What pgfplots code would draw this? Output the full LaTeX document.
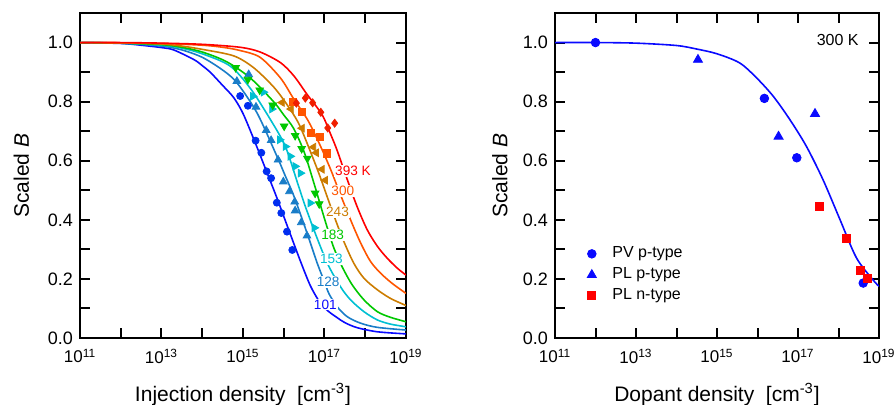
\documentclass[border=0pt]{standalone}
\usepackage{fontspec}
\setmainfont{Liberation Sans}
\usepackage{pgfplots}
\pgfplotsset{compat=1.18}

\definecolor{c393}{RGB}{255,0,0}
\definecolor{c393m}{RGB}{240,30,0}
\definecolor{c300}{RGB}{255,85,0}
\definecolor{c243}{RGB}{204,124,0}
\definecolor{c183}{RGB}{0,200,0}
\definecolor{c153}{RGB}{0,192,210}
\definecolor{c128}{RGB}{25,125,200}
\definecolor{c101}{RGB}{10,10,255}
\definecolor{c101m}{RGB}{0,45,240}
\definecolor{rblue}{RGB}{10,10,255}
\definecolor{rred}{RGB}{255,0,0}

\pgfplotsset{
  myaxis/.style={
    scale only axis, height=162.5pt,
    xmin=11, xmax=19, ymin=0, ymax=1.1,
    xtick={11,12,13,14,15,16,17,18,19},
    xticklabels={{10\textsuperscript{11}},{},{10\textsuperscript{13}},{},{10\textsuperscript{15}},{},{10\textsuperscript{17}},{},{10\textsuperscript{19}}},
    ytick={0,0.1,0.2,0.3,0.4,0.5,0.6,0.7,0.8,0.9,1.0},
    yticklabels={0.0,{},0.2,{},0.4,{},0.6,{},0.8,{},1.0},
    minor tick num=0,
    tick align=inside,
    major tick length=5pt,
    axis line style={line width=1.1pt},
    every tick/.style={line width=1pt, black},
    xticklabel style={font=\fontsize{8.5}{10}\selectfont, yshift=-2pt},
    yticklabel style={font=\fontsize{9}{10}\selectfont},
    label style={font=\fontsize{10.5}{12}\selectfont},
    xlabel style={at={(axis description cs:0.5,-0.175)}, anchor=center},
    clip=true,
  },
  curve/.style={line width=0.8pt, smooth, tension=0.5},
}

\begin{document}
\begin{tikzpicture}
\useasboundingbox (0,0) rectangle (447pt,202pt);

% ---------------- Left panel ----------------
\begin{axis}[myaxis, width=163pt, at={(40pt,33pt)}, anchor=south west,
  xlabel={Injection density\ \ [cm\textsuperscript{-3}]},
  ylabel={Scaled \textit{B}},
  ylabel style={at={(axis description cs:-0.18,0.5)}, anchor=center},
]
% 101 K
\addplot[curve, color=c101] coordinates {
(11,1.000) (12,0.997) (12.5,0.991) (13.0,0.983) (13.3,0.975) (13.8,0.942) (14.0,0.922) (14.2,0.899)
(14.5,0.855) (14.77,0.814) (15.0,0.760) (15.3,0.661) (15.6,0.556) (15.83,0.475) (16.12,0.367)
(16.41,0.260) (16.66,0.175) (16.9,0.118) (17.1,0.090) (17.3,0.070) (17.5,0.052) (17.8,0.035)
(18.3,0.021) (19.0,0.014)};
% 128 K
\addplot[curve, color=c128] coordinates {
(11,1.000) (12,0.998) (13,0.988) (13.5,0.975) (14,0.950) (14.5,0.907) (14.85,0.864) (15.34,0.763)
(15.83,0.616) (16.04,0.548) (16.25,0.480) (16.57,0.356) (16.82,0.254) (17.0,0.190) (17.11,0.150)
(17.31,0.106) (17.56,0.072) (17.89,0.050) (18.3,0.036) (19.0,0.027)};
% 153 K
\addplot[curve, color=c153] coordinates {
(11,1.000) (12,0.998) (13,0.991) (13.5,0.981) (14,0.962) (14.68,0.921) (15.18,0.845) (15.67,0.740)
(16.04,0.648) (16.35,0.520) (16.5,0.457) (16.65,0.400) (16.74,0.366) (17.07,0.253) (17.39,0.174)
(17.64,0.129) (17.97,0.089) (18.3,0.061) (18.62,0.047) (19,0.038)};
% 183 K
\addplot[curve, color=c183] coordinates {
(11,1.000) (12,0.998) (13,0.993) (13.5,0.984) (14,0.968) (14.6,0.935) (15.18,0.880) (15.75,0.800)
(16.0,0.755) (16.24,0.710) (16.5,0.630) (16.75,0.520) (16.90,0.450) (17.06,0.377) (17.23,0.305)
(17.43,0.242) (17.68,0.180) (17.97,0.129) (18.30,0.089) (18.62,0.070) (19,0.055)};
% 243 K
\addplot[curve, color=c243] coordinates {
(11,1.000) (12,0.999) (13,0.995) (13.5,0.988) (14,0.977) (14.77,0.955) (15.26,0.915) (15.75,0.850)
(16.08,0.790) (16.36,0.728) (16.6,0.650) (16.86,0.558) (17.1,0.465) (17.31,0.385) (17.48,0.325)
(17.72,0.253) (17.97,0.202) (18.3,0.163) (18.62,0.134) (19,0.110)};
% 300 K
\addplot[curve, color=c300] coordinates {
(11,1.000) (12,0.999) (13,0.997) (14,0.991) (14.5,0.984) (14.93,0.973) (15.42,0.950) (15.92,0.880)
(16.25,0.808) (16.6,0.735) (16.9,0.650) (17.15,0.571) (17.35,0.500) (17.64,0.400) (17.89,0.321)
(18.13,0.259) (18.38,0.219) (18.66,0.185) (19,0.151)};
% 393 K
\addplot[curve, color=c393] coordinates {
(11,1.000) (12,1.000) (13,0.998) (14,0.994) (14.93,0.984) (15.42,0.968) (15.92,0.932) (16.25,0.887)
(16.57,0.825) (16.94,0.756) (17.15,0.690) (17.31,0.635) (17.56,0.536) (17.80,0.445) (18.05,0.366)
(18.30,0.310) (18.54,0.270) (18.79,0.236) (19,0.213)};

% data points
\addplot[only marks, mark=*, mark size=1.75pt, color=c101m] coordinates {
(14.93,0.819) (15.12,0.786) (15.31,0.668) (15.45,0.627) (15.58,0.564) (15.69,0.541)
(15.83,0.458) (15.94,0.423) (16.08,0.360) (16.21,0.298)};
\addplot[only marks, mark=triangle*, mark size=2.2pt, color=c128] coordinates {
(14.85,0.869) (15.14,0.892) (15.32,0.782) (15.57,0.703) (15.69,0.669) (15.86,0.603)
(15.99,0.529) (16.14,0.496) (16.27,0.461) (16.28,0.431) (16.43,0.391) (16.57,0.346)};
\addplot[only marks, mark=triangle*, mark size=2.2pt, mark options={rotate=-90}, color=c153] coordinates {
(15.24,0.818) (15.50,0.832) (15.71,0.775) (15.90,0.671) (16.04,0.648) (16.16,0.615)
(16.28,0.581) (16.41,0.558) (16.65,0.457) (16.75,0.373)};
\addplot[only marks, mark=triangle*, mark size=2.2pt, mark options={rotate=180}, color=c183] coordinates {
(14.82,0.915) (15.12,0.875) (15.41,0.839) (15.73,0.788) (16.01,0.717) (16.28,0.685)
(16.44,0.641) (16.58,0.608) (16.77,0.490) (16.87,0.454)};
\addplot[only marks, mark=triangle*, mark size=2.2pt, mark options={rotate=90}, color=c243] coordinates {
(15.96,0.797) (16.18,0.775) (16.45,0.710) (16.73,0.646) (16.80,0.627) (16.94,0.571) (17.02,0.534)};
\addplot[only marks, mark=square*, mark size=1.8pt, color=c300] coordinates {
(16.23,0.800) (16.45,0.764) (16.66,0.694) (16.88,0.680) (17.05,0.625)};
\addplot[only marks, mark=diamond*, mark size=2.0pt, color=c393m] coordinates {
(16.31,0.795) (16.53,0.812) (16.71,0.796) (16.91,0.764) (17.08,0.711) (17.25,0.727)};

% curve labels
\begin{scope}[every node/.style={fill=white, inner sep=0.5pt, font=\fontsize{6.8}{8}\selectfont}]
\node[text=c393] at (axis cs:17.70,0.566) {393 K};
\node[text=c300] at (axis cs:17.45,0.497) {300};
\node[text=c243] at (axis cs:17.32,0.426) {243};
\node[text=c183] at (axis cs:17.20,0.348) {183};
\node[text=c153] at (axis cs:17.17,0.268) {153};
\node[text=c128] at (axis cs:17.09,0.190) {128};
\node[text=c101] at (axis cs:17.02,0.113) {101};
\end{scope}
\end{axis}

% ---------------- Right panel ----------------
\begin{axis}[myaxis, width=162pt, at={(277.5pt,33pt)}, anchor=south west,
  xlabel={Dopant density\ \ [cm\textsuperscript{-3}]},
  ylabel={Scaled \textit{B}},
  ylabel style={at={(axis description cs:-0.17,0.5)}, anchor=center},
  legend style={draw=none, fill=none, at={(axis cs:11.64,0.337)}, anchor=north west,
    font=\fontsize{8}{9.5}\selectfont, row sep=-0.5pt, column sep=6pt},
  legend cell align=left,
]
\addplot[curve, color=rblue, forget plot] coordinates {
(11,1.000) (12,1.000) (13,0.998) (14,0.990) (14.5,0.978) (15,0.962) (15.56,0.931) (15.98,0.880)
(16.39,0.818) (16.8,0.739) (17.21,0.648) (17.62,0.535) (18.03,0.403) (18.44,0.272) (18.85,0.197) (19,0.175)};
\addplot[only marks, mark=*, mark size=2.15pt, color=rblue] coordinates {
(12.00,1.000) (16.17,0.811) (16.97,0.610) (18.61,0.186)};
\addlegendentry{PV p-type}
\addplot[only marks, mark=triangle*, mark size=2.6pt, color=rblue] coordinates {
(14.53,0.942) (16.52,0.682) (17.42,0.759)};
\addlegendentry{PL p-type}
\addplot[only marks, mark=square*, mark size=2.0pt, color=rred] coordinates {
(17.52,0.445) (18.19,0.337) (18.55,0.230) (18.71,0.201)};
\addlegendentry{PL n-type}
\node[font=\fontsize{8}{9.5}\selectfont] at (axis cs:17.98,1.007) {300 K};
\end{axis}
\end{tikzpicture}
\end{document}
